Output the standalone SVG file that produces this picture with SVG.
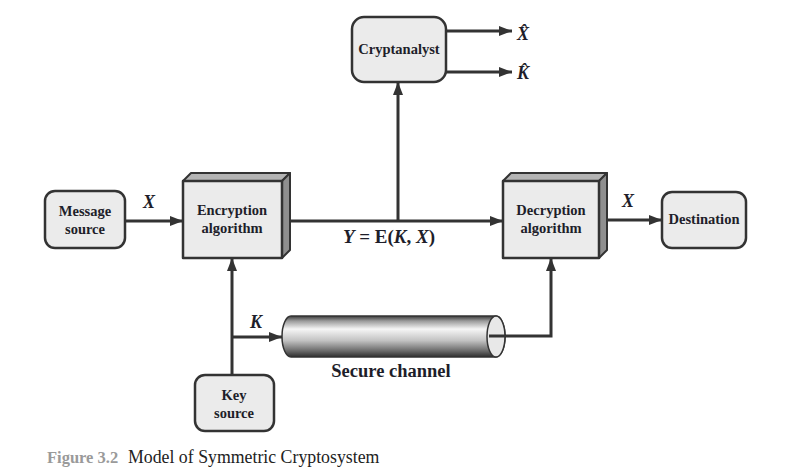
<svg xmlns="http://www.w3.org/2000/svg" width="785" height="474" viewBox="0 0 785 474">
<defs>
<style>
.box{fill:#ebebeb;stroke:#333;stroke-width:2.5}
.face{fill:#ebebeb;stroke:#333;stroke-width:2.5;stroke-linejoin:round}
.top{fill:#b4b4b4;stroke:#333;stroke-width:2;stroke-linejoin:round}
.side{fill:#8f8f8f;stroke:#333;stroke-width:2;stroke-linejoin:round}
.lbl{font-family:"Liberation Serif","Times New Roman",serif;font-weight:bold;font-size:14.5px;fill:#1e1e2a;text-anchor:middle}
.var{font-family:"Liberation Serif","Times New Roman",serif;font-weight:bold;font-style:italic;font-size:18px;fill:#1e1e2a}
.ln{stroke:#333;stroke-width:3;fill:none}
</style>
<marker id="ah" markerWidth="14" markerHeight="12" refX="13" refY="6" orient="auto" markerUnits="userSpaceOnUse">
<path d="M0,1 L13,6 L0,11 Z" fill="#333"/>
</marker>
<linearGradient id="cyl" x1="0" y1="0" x2="0" y2="1">
<stop offset="0" stop-color="#3a3a3a"/>
<stop offset="0.12" stop-color="#9a9a9a"/>
<stop offset="0.32" stop-color="#f6f6f6"/>
<stop offset="0.6" stop-color="#c2c2c2"/>
<stop offset="0.85" stop-color="#6a6a6a"/>
<stop offset="1" stop-color="#2e2e2e"/>
</linearGradient>
</defs>
<g id="connectors">
<line class="ln" x1="125" y1="221" x2="183" y2="221" marker-end="url(#ah)"/>
<line class="ln" x1="290" y1="221" x2="503" y2="221" marker-end="url(#ah)"/>
<line class="ln" x1="398" y1="221" x2="398" y2="82" marker-end="url(#ah)"/>
<line class="ln" x1="446" y1="31" x2="512" y2="31" marker-end="url(#ah)"/>
<line class="ln" x1="446" y1="72" x2="512" y2="72" marker-end="url(#ah)"/>
<line class="ln" x1="607" y1="220" x2="662" y2="220" marker-end="url(#ah)"/>
<line class="ln" x1="232" y1="375" x2="232" y2="258" marker-end="url(#ah)"/>
<line class="ln" x1="232" y1="337" x2="282" y2="337" marker-end="url(#ah)"/>
<polyline class="ln" points="489,336 551,336 551,258" marker-end="url(#ah)"/>
<text class="var" x="143" y="208">X</text>
<text class="var" x="250" y="328">K</text>
<text class="var" x="622" y="207">X</text>
<text x="389" y="243" style="font-family:'Liberation Serif','Times New Roman',serif;font-weight:bold;font-size:19px;fill:#1e1e2a;text-anchor:middle"><tspan font-style="italic">Y</tspan> = E(<tspan font-style="italic">K</tspan>, <tspan font-style="italic">X</tspan>)</text>
<text class="var" x="517" y="40">X̂</text>
<text class="var" x="517" y="79">K̂</text>
</g>
<g id="message-source">
<rect class="box" x="45" y="191" width="80" height="57" rx="10"/>
<text class="lbl" x="85" y="216">Message</text>
<text class="lbl" x="85" y="234">source</text>
</g>
<g id="encryption">
<polygon class="top" points="183,181 191,173 290,173 282,181"/>
<polygon class="side" points="282,181 290,173 290,250 282,258"/>
<rect class="face" x="183" y="181" width="99" height="77"/>
<text class="lbl" x="232" y="215">Encryption</text>
<text class="lbl" x="232" y="233">algorithm</text>
</g>
<g id="decryption">
<polygon class="top" points="503,181 511,173 607,173 599,181"/>
<polygon class="side" points="599,181 607,173 607,250 599,258"/>
<rect class="face" x="503" y="181" width="96" height="77"/>
<text class="lbl" x="551" y="215">Decryption</text>
<text class="lbl" x="551" y="233">algorithm</text>
</g>
<g id="cryptanalyst">
<rect class="box" x="352" y="17" width="94" height="65" rx="12"/>
<text class="lbl" x="399" y="54">Cryptanalyst</text>
</g>
<g id="destination">
<rect class="box" x="662" y="192" width="84" height="56" rx="10"/>
<text class="lbl" x="704" y="224">Destination</text>
</g>
<g id="key-source">
<rect class="box" x="195" y="375" width="79" height="56" rx="10"/>
<text class="lbl" x="234" y="400">Key</text>
<text class="lbl" x="234" y="418">source</text>
</g>
<g id="secure-channel">
<path d="M291,316 L496,316 A9,20.5 0 0 1 496,357 L291,357 A9,20.5 0 0 1 291,316 Z" fill="url(#cyl)" stroke="#333" stroke-width="1.5"/>
<ellipse cx="496" cy="336.5" rx="9" ry="20.5" fill="#e8e8e8" stroke="#333" stroke-width="1.5"/>
<line class="ln" x1="489" y1="336" x2="506" y2="336"/>
<text x="391" y="377" style="font-family:'Liberation Serif','Times New Roman',serif;font-weight:bold;font-size:18.5px;fill:#1e1e2a;text-anchor:middle">Secure channel</text>
</g>
<g id="caption">
<text x="47" y="463" style="font-family:'Liberation Serif','Times New Roman',serif;font-weight:bold;font-size:16.5px;fill:#9a9a9a">Figure 3.2</text>
<text x="128" y="463" style="font-family:'Liberation Serif','Times New Roman',serif;font-size:17.8px;fill:#222">Model of Symmetric Cryptosystem</text>
</g>
</svg>
